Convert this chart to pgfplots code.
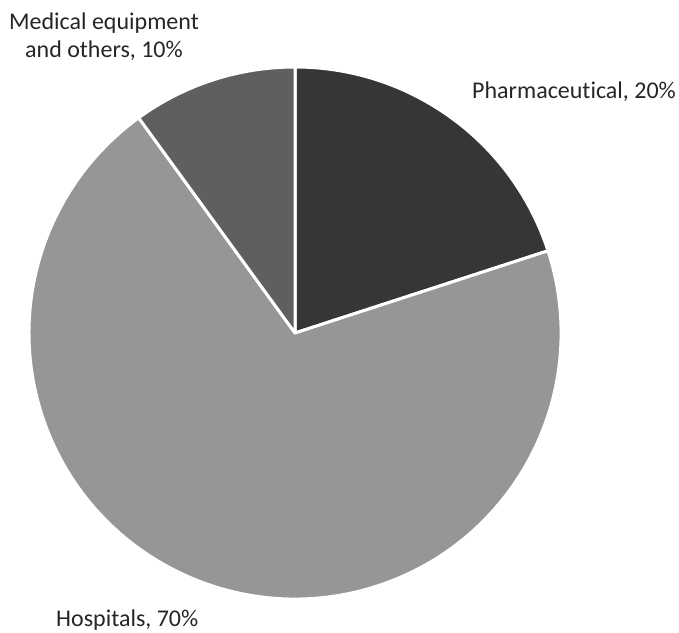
\documentclass[border=0pt]{standalone}
\usepackage{pgfplots}
\usepackage{pgfplotstable}
\pgfplotsset{compat=1.18}
\usetikzlibrary{calc}
\usepackage{fontspec}
\setmainfont[Ligatures={NoCommon}]{Carlito}
\definecolor{cPharma}{HTML}{363636}
\definecolor{cHosp}{HTML}{969696}
\definecolor{cMed}{HTML}{5F5F5F}
\pgfplotstableread{
name value
Pharmaceutical 20
Hospitals 70
Medical 10
}\piedata
\pgfplotstablegetelem{0}{value}\of\piedata \edef\vA{\pgfplotsretval}
\pgfplotstablegetelem{1}{value}\of\piedata \edef\vB{\pgfplotsretval}
\pgfplotstablegetelem{2}{value}\of\piedata \edef\vC{\pgfplotsretval}
\pgfmathsetmacro{\aZero}{90}
\pgfmathsetmacro{\aOne}{90-3.6*\vA}
\pgfmathsetmacro{\aTwo}{\aOne-3.6*\vB}
\pgfmathsetmacro{\aThree}{\aTwo-3.6*\vC}
\def\R{266}
\begin{document}
\begin{tikzpicture}
\begin{axis}[
  width=679pt, height=631pt, scale only axis,
  xmin=0, xmax=679, ymin=0, ymax=631,
  hide axis, clip=false,
]
\path (axis cs:0,0) rectangle (axis cs:679,631);
\fill[cPharma, draw=white, line width=3pt, line join=round]
  (axis cs:295,298) -- ($(axis cs:295,298)+(\aZero:\R pt)$) arc[start angle=\aZero, end angle=\aOne, radius=\R pt] -- cycle;
\fill[cHosp, draw=white, line width=3pt, line join=round]
  (axis cs:295,298) -- ($(axis cs:295,298)+(\aOne:\R pt)$) arc[start angle=\aOne, end angle=\aTwo, radius=\R pt] -- cycle;
\fill[cMed, draw=white, line width=3pt, line join=round]
  (axis cs:295,298) -- ($(axis cs:295,298)+(\aTwo:\R pt)$) arc[start angle=\aTwo, end angle=\aThree, radius=\R pt] -- cycle;
\node[anchor=base west, inner sep=0pt, font=\fontsize{24}{28}\selectfont, text=black!85] at (axis cs:472,532) {Pharmaceutical, 20\%};
\node[anchor=base, inner sep=0pt, font=\fontsize{24}{28}\selectfont, text=black!85] at (axis cs:104,601) {Medical equipment};
\node[anchor=base, inner sep=0pt, font=\fontsize{24}{28}\selectfont, text=black!85] at (axis cs:104,573) {and others, 10\%};
\node[anchor=base west, inner sep=0pt, font=\fontsize{24}{28}\selectfont, text=black!85] at (axis cs:56,5) {Hospitals, 70\%};
\end{axis}
\end{tikzpicture}
\end{document}
